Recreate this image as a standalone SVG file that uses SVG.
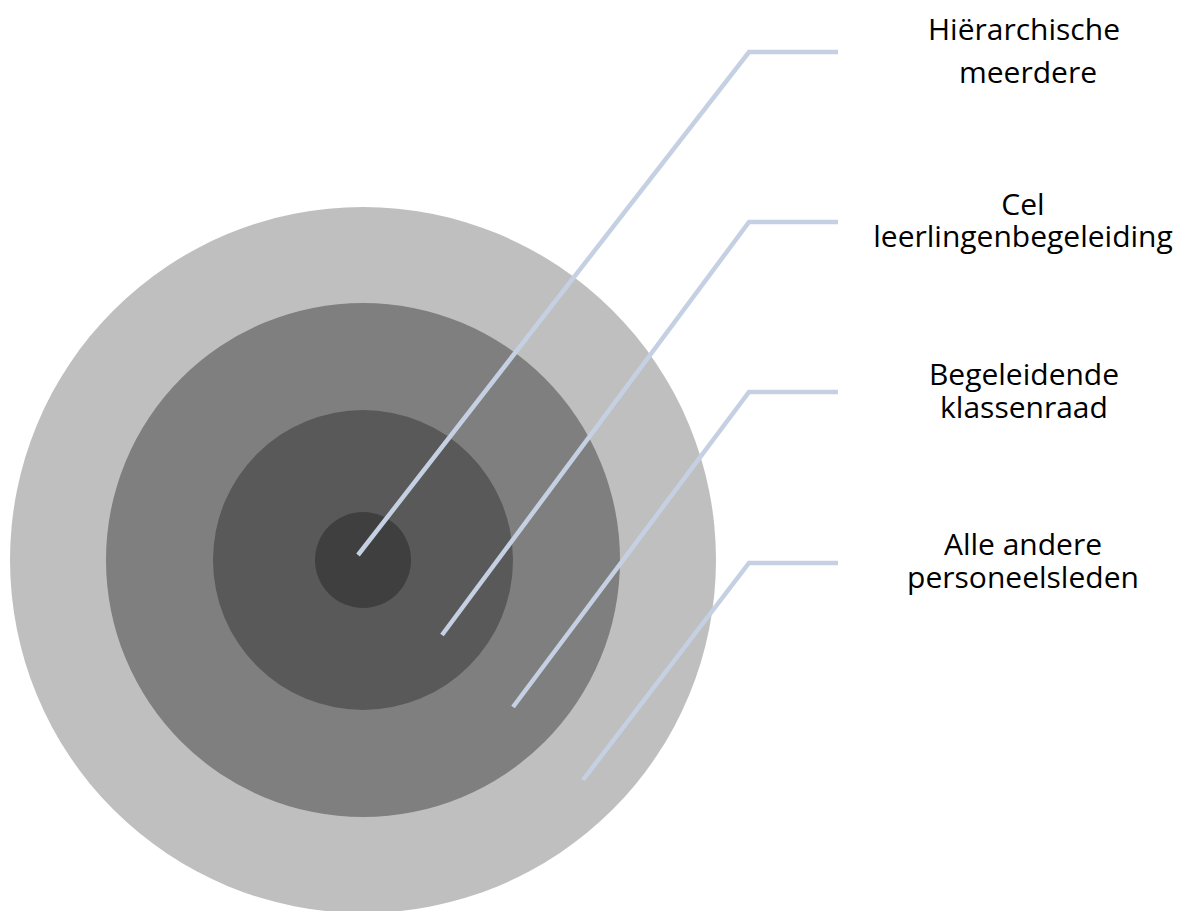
<svg xmlns="http://www.w3.org/2000/svg" width="1184" height="911" viewBox="0 0 1184 911">
<style>
.lbl{font-family:"Open Sans","DejaVu Sans",sans-serif;font-size:30px;fill:#000;text-anchor:middle}
.con{fill:none;stroke:#c5d0e2;stroke-width:4.5;stroke-linejoin:miter}
</style>
<rect width="1184" height="911" fill="#fff"/>
<g id="ring-outer"><circle cx="363" cy="560" r="353" fill="#bfbfbf"/></g>
<g id="ring-2"><circle cx="363" cy="560" r="257" fill="#7f7f7f"/></g>
<g id="ring-3"><circle cx="363" cy="560" r="150" fill="#595959"/></g>
<g id="ring-core"><circle cx="363" cy="560" r="48" fill="#3f3f3f"/></g>
<g id="connectors">
<polyline class="con" points="358,555 749,52 838,52"/>
<polyline class="con" points="442,635 749,222 838,222"/>
<polyline class="con" points="513,707 749,392 838,392"/>
<polyline class="con" points="583,780 749,563 838,563"/>
</g>
<g id="label-1"><text class="lbl" x="1024" y="40">Hiërarchische</text><text class="lbl" x="1028" y="83">meerdere</text></g>
<g id="label-2"><text class="lbl" x="1023" y="215">Cel</text><text class="lbl" x="1023" y="247">leerlingenbegeleiding</text></g>
<g id="label-3"><text class="lbl" x="1024" y="385">Begeleidende</text><text class="lbl" x="1024" y="418">klassenraad</text></g>
<g id="label-4"><text class="lbl" x="1023" y="555">Alle andere</text><text class="lbl" x="1023" y="588">personeelsleden</text></g>
</svg>
